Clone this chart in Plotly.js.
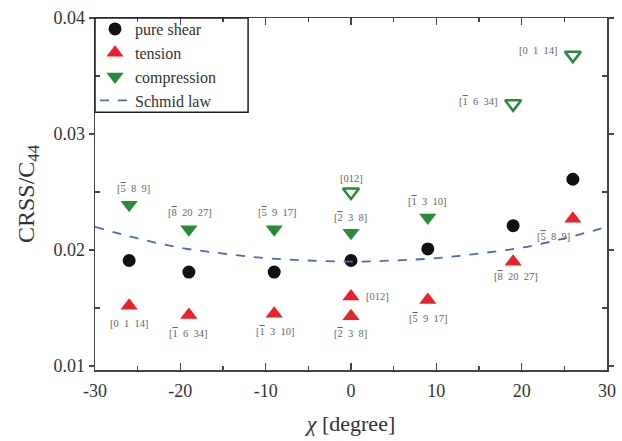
<!DOCTYPE html>
<html><head><meta charset="utf-8">
<script src="https://cdn.plot.ly/plotly-3.0.1.min.js"></script>
<style>html,body{margin:0;padding:0;background:#fff}#chart{width:622px;height:441px}</style>
</head><body><div id="chart"></div>
<script>
// pure shear
var shearX = [-26, -19, -9, 0, 9, 19, 26];
var shearY = [0.0191, 0.0181, 0.0181, 0.0191, 0.0201, 0.0221, 0.0261];
// tension
var tensX = [-26, -19, -9, 0, 0, 9, 19, 26];
var tensY = [0.0152, 0.0144, 0.0145, 0.0143, 0.0160, 0.0157, 0.0190, 0.0227];
var tensLabels = ["[0 1 14]", "[|1| 6 34]", "[|1| 3 10]", "[|2| 3 8]", "[012]", "[|5| 9 17]", "[|8| 20 27]", "[|5| 8 9]"];
// compression (filled)
var compX = [-26, -19, -9, 0, 9];
var compY = [0.0239, 0.0218, 0.0218, 0.0215, 0.0228];
var compLabels = ["[|5| 8 9]", "[|8| 20 27]", "[|5| 9 17]", "[|2| 3 8]", "[|1| 3 10]"];
// compression (open)
var compOpenX = [0, 19, 26];
var compOpenY = [0.0250, 0.0326, 0.0368];
var compOpenLabels = ["[012]", "[|1| 6 34]", "[0 1 14]"];
// Schmid law
var schmidX = [-30, -25, -20, -15, -10, -5, 0, 5, 10, 15, 20, 25, 30];
var schmidY = [0.0220, 0.0210, 0.0202, 0.0197, 0.0193, 0.0191, 0.0190, 0.0191, 0.0193, 0.0197, 0.0202, 0.0210, 0.0220];
// tick labels
var xTickVals = [-30, -20, -10, 0, 10, 20, 30];
var xTickText = ['-30', '-20', '-10', '0', '10', '20', '30'];
var yTickVals = [0.01, 0.02, 0.03, 0.04];
var yTickText = ['0.01', '0.02', '0.03', '0.04'];

var SERIF = '"Liberation Serif", "Times New Roman", Times, serif';
var RED = '#e8232b', GREEN = '#2a8a3c', BLUE = '#4a6cb3';
// "|d|" marks a digit with an overbar (negative Miller index)
function fmt(s) {
  return s.replace(/ /g, '\u00a0\u00a0').replace(/\|(\d)\|/g, '<span style="text-decoration:overline">$1</span>');
}
var traces = [
  {x: shearX, y: shearY, mode: 'markers', name: 'pure shear', type: 'scatter',
   marker: {symbol: 'circle', size: 13, color: '#111'}},
  {x: tensX, y: tensY, mode: 'markers', name: 'tension', type: 'scatter',
   marker: {symbol: 'triangle-up', size: 15, color: RED}},
  {x: compX, y: compY, mode: 'markers', name: 'compression', type: 'scatter',
   marker: {symbol: 'triangle-down', size: 15, color: GREEN}},
  {x: schmidX, y: schmidY, mode: 'lines', name: 'Schmid law', type: 'scatter',
   line: {color: BLUE, dash: 'dash', width: 1.8, shape: 'spline'}},
  {x: compOpenX, y: compOpenY, mode: 'markers', showlegend: false, type: 'scatter',
   marker: {symbol: 'triangle-down-open', size: 14, color: GREEN, line: {width: 2.5, color: GREEN}}}
];

var annFont = {family: SERIF, size: 10.5, color: '#666'};
var ann = [];
function add(x, y, t, xs, ys, xa) {
  ann.push({x: x, y: y, text: fmt(t), showarrow: false, xref: 'x', yref: 'y',
    xshift: xs, yshift: ys, xanchor: xa || 'center', yanchor: 'middle', font: annFont});
}
var compOff = [[4, 16], [1, 17], [3, 17], [-1, 15], [0, 16]];
compX.forEach(function (x, i) { add(x, compY[i], compLabels[i], compOff[i][0], compOff[i][1]); });
var openOff = [[0, 14, 'center'], [-13, 2, 'right'], [-13, 5, 'right']];
compOpenX.forEach(function (x, i) { add(x, compOpenY[i], compOpenLabels[i], openOff[i][0], openOff[i][1], openOff[i][2]); });
var tensOff = [[0, -18], [0, -18], [1, -18], [-1, -17], [13, 0, 'left'], [1, -19], [3, -15], [-19, -18]];
tensX.forEach(function (x, i) { add(x, tensY[i], tensLabels[i], tensOff[i][0], tensOff[i][1], tensOff[i][2]); });

var axisCommon = {
  showgrid: false, zeroline: false, showline: true, linecolor: '#444', linewidth: 1.5,
  mirror: 'ticks', tickcolor: '#444', tickwidth: 1.3,
  tickfont: {family: SERIF, size: 18, color: '#333'}
};
var layout = {
  width: 622, height: 441,
  margin: {l: 95, r: 15, t: 15, b: 71},
  paper_bgcolor: '#fff', plot_bgcolor: '#fff',
  font: {family: SERIF, color: '#333'},
  xaxis: Object.assign({}, axisCommon, {
    range: [-30, 30], tickmode: 'array', tickvals: xTickVals, ticktext: xTickText, ticks: 'inside', ticklen: 7,
    ticklabelstandoff: 4,
    minor: {tickvals: [-25, -15, -5, 5, 15, 25], ticks: 'inside', ticklen: 4, tickcolor: '#444'},
    title: {text: '<i>\u03C7</i> [degree]', font: {size: 22, color: '#333', family: SERIF}, standoff: 15}
  }),
  yaxis: Object.assign({}, axisCommon, {
    range: [0.00966, 0.04], tickmode: 'array', tickvals: yTickVals, ticktext: yTickText,
    ticks: 'outside', ticklen: 5,
    minor: {tickvals: [0.015, 0.025, 0.035], ticks: 'inside', ticklen: 5, tickcolor: '#444'},
    title: {text: 'CRSS/C<sub>44</sub>', font: {size: 24, color: '#333', family: SERIF}, standoff: 12}
  }),
  legend: {x: 0, y: 1.017, xanchor: 'left', yanchor: 'top', bgcolor: 'rgba(0,0,0,0)',
    borderwidth: 0, font: {size: 16, color: '#333', family: SERIF}, tracegroupgap: 0},
  shapes: [{type: 'rect', xref: 'paper', yref: 'paper', x0: 0, x1: 0.299, y0: 0.732, y1: 1,
    line: {color: '#222', width: 1.5}, fillcolor: 'rgba(0,0,0,0)', layer: 'above'}],
  annotations: ann,
  showlegend: true
};
Plotly.newPlot('chart', traces, layout, {displayModeBar: false, staticPlot: true});
</script></body></html>
